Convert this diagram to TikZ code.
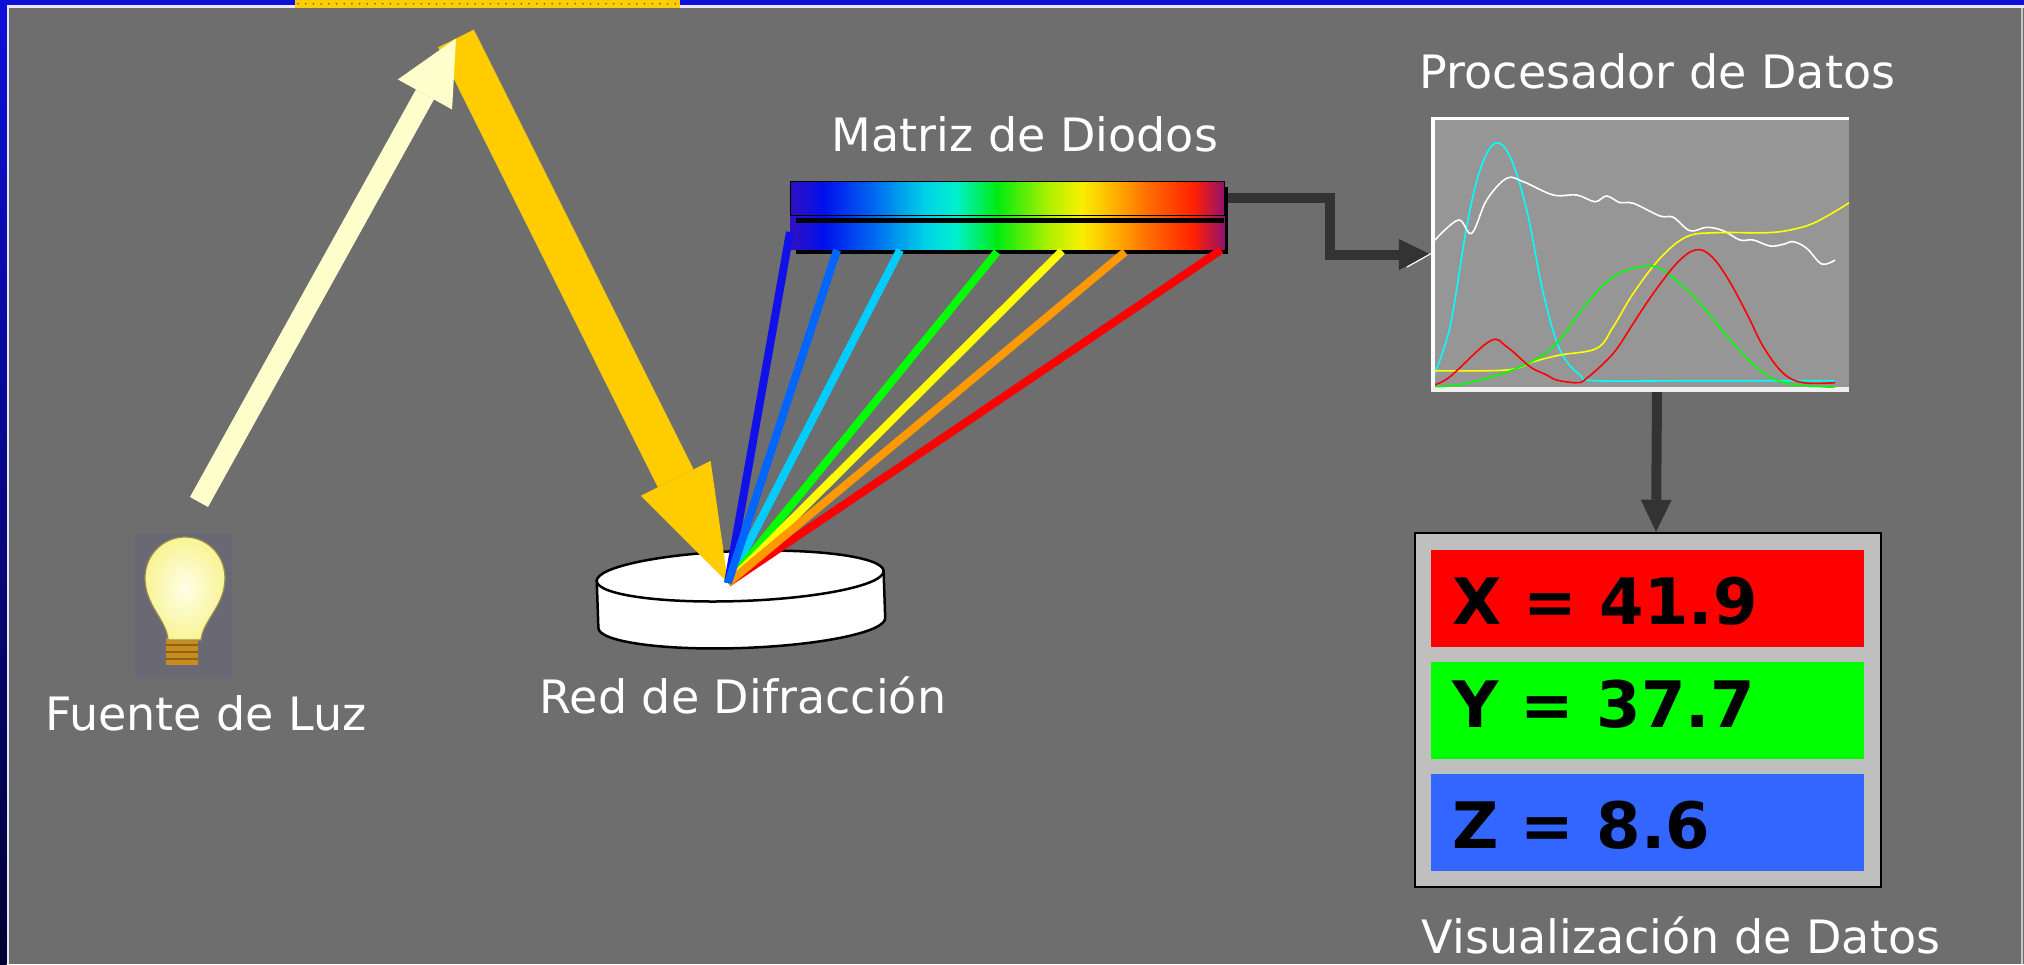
\documentclass[tikz,border=0pt]{standalone}
\usepackage{fontspec}
\setmainfont{DejaVu Sans}
\usetikzlibrary{arrows.meta}

\definecolor{bg}{RGB}{110,110,110}
\definecolor{frameblue}{RGB}{14,14,219}
\definecolor{framenavy}{RGB}{0,0,51}
\definecolor{frameline}{RGB}{232,232,246}
\definecolor{gold}{RGB}{255,204,0}
\definecolor{paleyellow}{RGB}{255,255,204}
\definecolor{connector}{RGB}{51,51,51}
\definecolor{plotgrey}{RGB}{150,150,150}
\definecolor{panelgrey}{RGB}{191,191,191}
\definecolor{rowred}{RGB}{255,0,0}
\definecolor{rowgreen}{RGB}{0,255,0}
\definecolor{rowblue}{RGB}{51,102,255}
\definecolor{lampbg}{RGB}{106,104,116}
\definecolor{bulbcore}{RGB}{255,255,232}
\definecolor{bulbedge}{RGB}{248,244,150}
\definecolor{bulbline}{RGB}{150,140,80}
\definecolor{bulbbase}{RGB}{200,140,30}
% spectrum stops of the diode array
\definecolor{sp0}{RGB}{48,16,192}
\definecolor{sp1}{RGB}{0,16,238}
\definecolor{sp2}{RGB}{0,110,240}
\definecolor{sp3}{RGB}{0,210,232}
\definecolor{sp4}{RGB}{0,240,205}
\definecolor{sp5}{RGB}{0,236,16}
\definecolor{sp6}{RGB}{170,240,0}
\definecolor{sp7}{RGB}{248,240,0}
\definecolor{sp8}{RGB}{255,180,0}
\definecolor{sp9}{RGB}{255,112,0}
\definecolor{sp10}{RGB}{255,32,0}
\definecolor{sp11}{RGB}{144,16,112}
% ray colours
\definecolor{raydarkblue}{RGB}{16,16,232}
\definecolor{rayblue}{RGB}{0,102,255}
\definecolor{raysky}{RGB}{0,204,255}
\definecolor{raygreen}{RGB}{0,255,0}
\definecolor{rayyellow}{RGB}{255,255,0}
\definecolor{rayorange}{RGB}{255,153,0}
\definecolor{rayred}{RGB}{255,0,0}
% spectrum traces in the processor window
\definecolor{tracecyan}{RGB}{0,255,255}
\definecolor{tracewhite}{RGB}{255,255,255}
\definecolor{traceyellow}{RGB}{255,255,0}
\definecolor{tracegreen}{RGB}{0,255,0}
\definecolor{tracered}{RGB}{255,0,0}

\tikzset{
  lbl/.style={text=white, font=\fontsize{46}{55}\selectfont, inner sep=0, anchor=base},
  val/.style={text=black, font=\fontsize{64}{70}\selectfont\bfseries, inner sep=0, anchor=base west},
  ray/.style={line width=8, line cap=butt},
  conn/.style={draw=connector, line width=10, -{Triangle[width=31pt,length=32pt,line width=0pt]}},
  valrow/.style={minimum width=433, minimum height=97, inner sep=0, draw=none},
  curve/.style={line width=1.6, smooth, tension=0.6}
}

\begin{document}
\begin{tikzpicture}[x=1pt, y=-1pt]
\useasboundingbox (0,0) rectangle (2024,964);

% background and frame
\fill[bg] (0,0) rectangle (2024,964);
\fill[frameblue] (0,0) rectangle (2024,5);
\fill[frameline] (6.5,5) rectangle (2024,7.5);
\shade[top color=frameblue, bottom color=framenavy] (0,0) rectangle (6.5,964);
\fill[frameline] (6.5,5) rectangle (8.5,964);
\fill[gray!45] (2020.5,7.5) rectangle (2022.5,964);
% dotted gold tab on the top edge
\fill[gold] (295,0) rectangle (680,7.5);
\foreach \i in {0,...,49} {
  \fill[black!65] (298+\i*7.7,3.8) circle[radius=0.9];
}

% ---- light source ----
\fill[lampbg] (135,533) rectangle (232,678);
\fill[bulbbase] (166,638) rectangle (198,665);
\foreach \yy in {645,652,659} {
  \draw[bulbbase!70!black, line width=1.5] (166,\yy) -- (198,\yy);
}
\shade[inner color=bulbcore, outer color=bulbedge, draw=bulbline, line width=1.2]
  (168,640) .. controls (167,620) and (145,606) .. (145,578)
  .. controls (145,555) and (163,537) .. (185,537)
  .. controls (207,537) and (225,555) .. (225,578)
  .. controls (225,606) and (203,620) .. (201,640) -- cycle;
\node[lbl] (fuente) at (206,730) {Fuente de Luz};

% ---- diffraction grating ----
\begin{scope}[rotate around={2:(741,600)}]
  \filldraw[fill=white, draw=black, line width=2.5]
    (597.5,576) -- (597.5,623)
    .. controls (597.5,636.8) and (661.8,648) .. (741,648)
    .. controls (820.2,648) and (884.5,636.8) .. (884.5,623)
    -- (884.5,576) -- cycle;
  \filldraw[fill=white, draw=black, line width=2.5] (741,576) circle[x radius=143.5, y radius=25];
\end{scope}
\node[lbl] (red) at (743,713) {Red de Difracción};

% key points of the light path
\coordinate (lampout) at (199,502);
\coordinate (mirror) at (456,38.5);
\coordinate (G) at (728,583);

% incident beam and reflected beam
\draw[gold, line width=40, -{Triangle[width=78pt,length=117pt,line width=0pt]}] (mirror) -- (G);
\draw[paleyellow, line width=20.6, -{Triangle[width=62pt,length=64pt,line width=0pt]}] (lampout) -- (mirror);

% ---- diode array ----
\node[inner sep=0, minimum width=438, minimum height=73, anchor=north west] (diodos) at (790,181) {};
\fill[black] (796,187) rectangle (1228,254);
\foreach \xa/\xb/\ca/\cb in {
  790/823.4/sp0/sp1, 823.4/876.8/sp1/sp2, 876.8/924.5/sp2/sp3,
  924.5/956/sp3/sp4, 956/997/sp4/sp5, 997/1047/sp5/sp6,
  1047/1080.8/sp6/sp7, 1080.8/1112/sp7/sp8, 1112/1146/sp8/sp9,
  1146/1193.6/sp9/sp10, 1193.6/1224/sp10/sp11} {
  \fill[left color=\ca, right color=\cb] (\xa,181) rectangle (\xb+0.7,249);
}
\fill[black] (796,218) rectangle (1224,223);
\draw[black, line width=1] (790,181) rectangle (1224,215);
\node[lbl] (matriz) at (1025,151) {Matriz de Diodos};

% dispersed rays from the grating to the array
\coordinate (e1) at (790,232);
\coordinate (e2) at (837,250);
\coordinate (e3) at (900,250);
\coordinate (e4) at (997,252);
\coordinate (e5) at (1062,251);
\coordinate (e6) at (1125,252);
\coordinate (e7) at (1221,250);
\draw[ray, raydarkblue] (G) -- (e1);
\draw[ray, raysky] (G) -- (e3);
\draw[ray, raygreen] (G) -- (e4);
\draw[ray, rayyellow] (G) -- (e5);
\draw[ray, rayred] (G) -- (e7);
\draw[ray, rayorange] (G) -- (e6);
\draw[ray, rayblue] (G) -- (e2);

% ---- data processor ----
\node[fill=plotgrey, minimum width=418, minimum height=275, inner sep=0] (proc) at (1640,254.5) {};
\fill[white] (1431,117) rectangle (1849,119.5);
\fill[white] (1431,117) rectangle (1435,392);
\fill[white!88!gray] (1431,387) rectangle (1849,392);
\begin{scope}
  \clip (1435,119.5) rectangle (1849,387);
  \draw[curve, tracecyan] plot coordinates {(1433.3,376.7) (1450,326.7) (1466.7,226.7) (1480,170) (1495,143.3) (1510,156.7) (1526.7,210) (1543.3,293.3) (1560,350) (1580,375) (1596.7,380.7) (1700,380.7) (1835,380.7)};
  \draw[curve, tracewhite] plot coordinates {(1435,240) (1458.3,220) (1471.7,233.3) (1486.7,200) (1506.7,178.3) (1523.3,181.7) (1553.3,195) (1576.7,195) (1595,201.7) (1606.7,196) (1620,202.7) (1633.3,203.3) (1660,216) (1673.3,217.3) (1690,230.7) (1706.7,227.3) (1723.3,230.7) (1740,240) (1753.3,240) (1770,246) (1783.3,244.3) (1793.3,241.7) (1806.7,248.3) (1821.7,264) (1835,260)};
  \draw[curve, traceyellow] plot coordinates {(1435,370.7) (1506.7,370) (1533.3,361.7) (1560,355) (1596.7,348.3) (1613.3,326.7) (1633.3,293.3) (1660,258.3) (1686.7,236.7) (1716.7,232.7) (1766.7,232.7) (1793.3,229.3) (1816.7,221.7) (1849.3,202.7)};
  \draw[curve, tracegreen] plot coordinates {(1435,386.7) (1466.7,383.3) (1516.7,368.3) (1553.3,346.7) (1586.7,303.3) (1613.3,276.7) (1640,266.7) (1660,268.3) (1683.3,286.7) (1700,303.3) (1733.3,343.3) (1760,370) (1786.7,383.3) (1835,387.3)};
  \draw[curve, tracered] plot coordinates {(1433.3,385) (1450,376.7) (1490,341) (1506.7,346.7) (1530,366.7) (1546.7,375) (1556.7,380) (1576.7,382.7) (1586.7,378.3) (1613.3,353.3) (1633.3,323.3) (1653.3,293.3) (1676.7,263.3) (1695,250) (1710,255) (1726.7,276.7) (1746.7,313.3) (1763.3,346.7) (1783.3,373.3) (1803.3,382.7) (1835,382.7)};
\end{scope}
\node[lbl] (procl) at (1657.5,88) {Procesador de Datos};

% ---- data display ----
\node[fill=panelgrey, draw=black, line width=2.5, minimum width=466, minimum height=354, inner sep=0] (disp) at (1648,710) {};
\node[valrow, fill=rowred] (rowx) at (1647.5,598.5) {};
\node[valrow, fill=rowgreen] (rowy) at (1647.5,710.5) {};
\node[valrow, fill=rowblue] (rowz) at (1647.5,822.5) {};
\node[val] (vx) at (1452,624) {X = 41.9};
\node[val] (vy) at (1452,727) {Y = 37.7};
\node[val] (vz) at (1452,848) {Z = 8.6};
\node[lbl] (displ) at (1681,953) {Visualización de Datos};

% ---- signal connectors ----
\coordinate (dout) at (1228,198);
\draw[conn] (dout) -- ++(102,0) |- (proc.west);
\draw[white, line width=1.2] (1407,267) -- (1432,253);
\draw[conn] ([xshift=17pt]proc.south) -- ([xshift=8pt]disp.north);

\end{tikzpicture}
\end{document}
